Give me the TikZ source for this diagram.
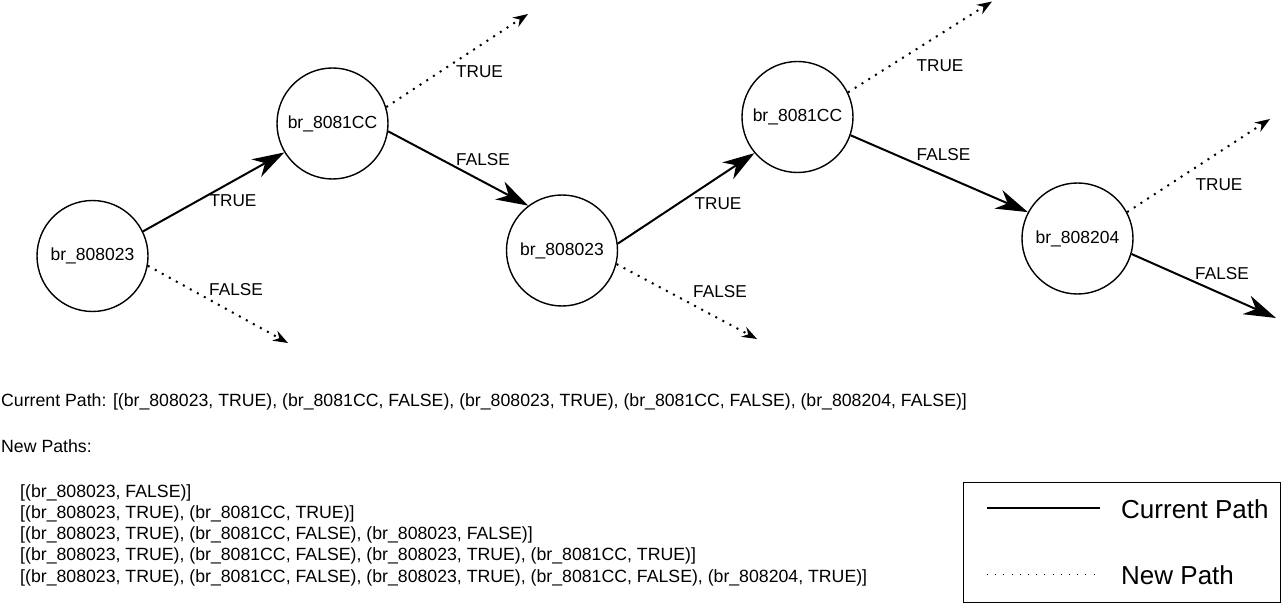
\documentclass[tikz,border=0pt]{standalone}
\usepackage{fontspec}
\setmainfont{Liberation Sans}
\usetikzlibrary{arrows.meta}
\tikzset{
  br/.style={circle, draw, line width=1.4pt, minimum size=111pt, inner sep=0pt, font=\fontsize{17.5}{20}\selectfont},
  lbl/.style={inner sep=0pt, font=\fontsize{17.2}{20}\selectfont},
  txt/.style={inner sep=0pt, anchor=west, font=\fontsize{17.7}{20}\selectfont},
  legtxt/.style={inner sep=0pt, anchor=west, font=\fontsize{26}{30}\selectfont},
  cur/.style={line width=2pt, -{Stealth[length=32pt, width=20pt, inset=10pt]}},
  newp/.style={line width=2pt, dash pattern=on 2pt off 6pt, -{Stealth[length=15pt, width=11pt, inset=5pt]}},
}
\begin{document}
\begin{tikzpicture}[x=1pt,y=-1pt]
\useasboundingbox (0,0) rectangle (1283,604);
% nodes
\node[br] (c1) at (92.5,256) {br\_808023};
\node[br] (c2) at (332.5,123.5) {br\_8081CC};
\node[br] (c3) at (562,250.5) {br\_808023};
\node[br] (c4) at (797.5,117) {br\_8081CC};
\node[br] (c5) at (1077.5,238.5) {br\_808204};
% free ends
\coordinate (e1) at (288,343);
\coordinate (e2) at (528,14);
\coordinate (e3) at (757,339);
\coordinate (e4) at (992,1.5);
\coordinate (e5) at (1270,119);
\coordinate (e6) at (1276,318);
% connectors
\draw[cur] (c1.26) -- (c2.211.6);
\draw[newp] (c1.-10) -- (e1);
\draw[newp] (c2.17.7) -- (e2);
\draw[cur] (c2.-8.4) -- (c3.127.8);
\draw[cur] (c3.7.7) -- (c4.220.5);
\draw[newp] (c3.-14) -- (e3);
\draw[newp] (c4.26) -- (e4);
\draw[cur] (c4.-19.8) -- (c5.152.7);
\draw[newp] (c5.28) -- (e5);
\draw[cur] (c5.-16.8) -- (e6);
% edge labels
\node[lbl] (l1) at (233,200.5) {TRUE};
\node[lbl] (l2) at (236,290) {FALSE};
\node[lbl] (l3) at (479.5,71.5) {TRUE};
\node[lbl] (l4) at (483,160) {FALSE};
\node[lbl] (l5) at (718,203.5) {TRUE};
\node[lbl] (l6) at (720,291.5) {FALSE};
\node[lbl] (l7) at (940,66) {TRUE};
\node[lbl] (l8) at (943.5,155) {FALSE};
\node[lbl] (l9) at (1219,185) {TRUE};
\node[lbl] (l10) at (1222,273.5) {FALSE};
% text
\node[txt] (t1) at (1,402) {Current Path: [(br\_808023, TRUE), (br\_8081CC, FALSE), (br\_808023, TRUE), (br\_8081CC, FALSE), (br\_808204, FALSE)]};
\node[txt] (t2) at (1,446) {New Paths:};
\node[txt] (p1) at (20,492.5) {[(br\_808023, FALSE)]};
\node[txt] (p2) at (20,513.5) {[(br\_808023, TRUE), (br\_8081CC, TRUE)]};
\node[txt] (p3) at (20,535) {[(br\_808023, TRUE), (br\_8081CC, FALSE), (br\_808023, FALSE)]};
\node[txt] (p4) at (20,556) {[(br\_808023, TRUE), (br\_8081CC, FALSE), (br\_808023, TRUE), (br\_8081CC, TRUE)]};
\node[txt] (p5) at (20,577.5) {[(br\_808023, TRUE), (br\_8081CC, FALSE), (br\_808023, TRUE), (br\_8081CC, FALSE), (br\_808204, TRUE)]};
% legend
\node[draw, line width=1.3pt, minimum width=317pt, minimum height=120pt, inner sep=0pt] (legend) at (1122,542.5) {};
\coordinate (la1) at (987,508);
\coordinate (la2) at (1100,508);
\coordinate (lb1) at (987,574.5);
\coordinate (lb2) at (1100,574.5);
\draw[line width=2pt] (la1) -- (la2);
\draw[line width=1pt, dash pattern=on 1pt off 7.2pt] (lb1) -- (lb2);
\node[legtxt] (lt1) at (1121,509) {Current Path};
\node[legtxt] (lt2) at (1121,575) {New Path};
\end{tikzpicture}
\end{document}
